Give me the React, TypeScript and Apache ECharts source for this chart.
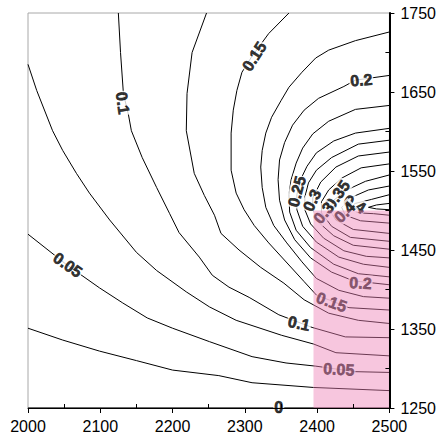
import React, { useEffect, useRef } from 'react';
import * as echarts from 'echarts';

const xMinorCats = ['2000', '2050', '2100', '2150', '2200', '2250', '2300', '2350', '2400', '2450', '2500'];
const yTickLabels = ['1250', '1300', '1350', '1400', '1450', '1500', '1550', '1600', '1650', '1700', '1750'];

const level000 = [[2000, 1250], [2500, 1250]];
const level025 = [[2000, 1351], [2048, 1336], [2099, 1322], [2150, 1310], [2200, 1298], [2264, 1291], [2310, 1282], [2395, 1276], [2500, 1272]];
const level050 = [[2000, 1470], [2054, 1431], [2099, 1402], [2131, 1383], [2165, 1364], [2200, 1351], [2251, 1334], [2310, 1315], [2357, 1307], [2398, 1303], [2453, 1296], [2500, 1295]];
const level075 = [[2000, 1685], [2012, 1652], [2034, 1601], [2048, 1576], [2067, 1547], [2085, 1522], [2113, 1488], [2150, 1447], [2178, 1424], [2219, 1397], [2251, 1378], [2288, 1361], [2351, 1342], [2395, 1331], [2426, 1320], [2500, 1316]];
const level100 = [[2125, 1750], [2128, 1700], [2132, 1648], [2139, 1621], [2143, 1601], [2158, 1567], [2178, 1529], [2196, 1496], [2209, 1472], [2237, 1441], [2255, 1418], [2278, 1403], [2306, 1390], [2347, 1368], [2393, 1352], [2439, 1340], [2500, 1339]];
const level125 = [[2247, 1750], [2227, 1700], [2220, 1648], [2219, 1601], [2230, 1547], [2244, 1519], [2258, 1494], [2267, 1471], [2292, 1450], [2322, 1428], [2354, 1408], [2382, 1387], [2416, 1370], [2457, 1361], [2500, 1357]];
const level150 = [[2361, 1750], [2333, 1724], [2309, 1694], [2296, 1675], [2289, 1652], [2284, 1627], [2281, 1598], [2281, 1551], [2288, 1522], [2299, 1501], [2313, 1481], [2333, 1459], [2361, 1431], [2382, 1410], [2399, 1393], [2444, 1377], [2500, 1374]];
const level175 = [[2500, 1726], [2453, 1715], [2416, 1703], [2398, 1693], [2379, 1675], [2361, 1656], [2350, 1639], [2337, 1618], [2329, 1598], [2324, 1576], [2322, 1555], [2324, 1529], [2329, 1504], [2340, 1481], [2358, 1459], [2379, 1435], [2399, 1414], [2430, 1399], [2464, 1391], [2500, 1389]];
const level200 = [[2500, 1671], [2453, 1665], [2437, 1657], [2402, 1642], [2382, 1627], [2366, 1608], [2355, 1586], [2348, 1564], [2346, 1539], [2348, 1513], [2355, 1488], [2369, 1463], [2391, 1440], [2420, 1422], [2450, 1411], [2500, 1406]];
const level225 = [[2500, 1633], [2453, 1628], [2416, 1613], [2394, 1597], [2380, 1579], [2371, 1560], [2364, 1539], [2361, 1520], [2362, 1498], [2371, 1475], [2391, 1453], [2423, 1432], [2457, 1420], [2500, 1416]];
const level250 = [[2500, 1604], [2453, 1598], [2423, 1588], [2399, 1573], [2386, 1556], [2377, 1539], [2372, 1520], [2372, 1501], [2380, 1480], [2399, 1460], [2430, 1441], [2464, 1432], [2500, 1428]];
const level275 = [[2500, 1589], [2457, 1584], [2420, 1567], [2399, 1551], [2388, 1535], [2383, 1517], [2383, 1501], [2391, 1483], [2409, 1465], [2437, 1449], [2468, 1442], [2500, 1440]];
const level300 = [[2500, 1574], [2457, 1569], [2426, 1555], [2405, 1536], [2394, 1516], [2394, 1501], [2402, 1485], [2423, 1468], [2450, 1456], [2500, 1451]];
const level325 = [[2500, 1559], [2461, 1554], [2434, 1541], [2416, 1526], [2406, 1511], [2406, 1497], [2420, 1480], [2446, 1466], [2500, 1461]];
const level350 = [[2500, 1545], [2467, 1537], [2441, 1526], [2423, 1513], [2417, 1501], [2426, 1488], [2450, 1476], [2500, 1471]];
const level375 = [[2500, 1531], [2471, 1526], [2446, 1516], [2434, 1504], [2439, 1494], [2460, 1487], [2500, 1484]];
const level400 = [[2500, 1520], [2475, 1514], [2453, 1509], [2444, 1503], [2457, 1497], [2478, 1496], [2500, 1494]];
const level425 = [[2500, 1509], [2482, 1507], [2471, 1504], [2482, 1502], [2500, 1501]];

const contours = [level000, level025, level050, level075, level100, level125, level150, level175, level200, level225, level250, level275, level300, level325, level350, level375, level400, level425];

const labelTexts = ['0', '0.05', '0.1', '0.15', '0.2', '0.25', '0.3', '0.35', '0.4', '0.3', '0.4', '0.2', '0.15', '0.1', '0.05'];
const labelPoints = [[2347, 1251], [2055, 1431], [2131, 1636], [2313, 1695], [2461, 1665], [2372, 1524], [2393, 1513], [2428, 1520], [2452, 1508], [2409, 1497], [2438, 1498], [2460, 1408], [2420, 1384], [2375, 1357], [2430, 1299]];
const labelAngles = [0, -35, -82, 57, 5, 75, 64, 55, -30, 50, 45, -3, -20, -12, -3];

const shadedRegion = [2395, 1500, 2500, 1250];

const TICK_FONT = '"Liberation Sans Narrow", "Liberation Sans", Arial, sans-serif';
const LABEL_FONT = '"Liberation Sans", Arial, sans-serif';

export default function App() {
  const ref = useRef<HTMLDivElement>(null);
  useEffect(() => {
    if (!ref.current) return;
    const chart = echarts.init(ref.current, null, { renderer: 'svg' });
    const lineSeries = contours.map((data) => ({
      type: 'line',
      data,
      symbol: 'none',
      showSymbol: false,
      lineStyle: { color: '#000', width: 1 },
      z: 2,
      silent: true,
    }));
    const option = {
      animation: false,
      grid: { left: 28, right: 48, top: 13, bottom: 30, show: true, borderColor: '#a8a8a8', borderWidth: 1 },
      xAxis: [
        {
          type: 'value', min: 2000, max: 2500, interval: 100, position: 'bottom',
          axisLine: { show: true, onZero: false, lineStyle: { color: '#000', width: 1 } },
          axisTick: { show: true, length: 5, lineStyle: { color: '#000' } },
          axisLabel: { color: '#000', fontSize: 16, fontFamily: TICK_FONT, margin: 10, formatter: (v: number) => String(v) },
          splitLine: { show: false },
          z: 20,
        },
        {
          type: 'category', data: xMinorCats, boundaryGap: false, position: 'bottom',
          axisLine: { show: false },
          axisTick: { show: true, inside: true, length: 4, interval: (i: number) => i % 2 === 1, lineStyle: { color: '#000' } },
          axisLabel: { show: false },
          splitLine: { show: false },
          z: 20,
        },
      ],
      yAxis: [
        { type: 'value', min: 1250, max: 1750, show: false, splitLine: { show: false } },
        {
          type: 'category', data: yTickLabels, boundaryGap: false, position: 'right',
          axisLine: { show: true, lineStyle: { color: '#000', width: 2 } },
          axisTick: { show: true, length: 5, interval: (i: number) => i % 2 === 0, lineStyle: { color: '#000' } },
          axisLabel: { interval: (i: number) => i % 2 === 0, color: '#000', fontSize: 16, fontFamily: TICK_FONT, margin: 11 },
          splitLine: { show: false },
          z: 20,
        },
        {
          type: 'category', data: yTickLabels, boundaryGap: false, position: 'right',
          axisLine: { show: false },
          axisTick: { show: true, inside: true, length: 4, interval: (i: number) => i % 2 === 1, lineStyle: { color: '#000' } },
          axisLabel: { show: false },
          splitLine: { show: false },
          z: 20,
        },
      ],
      series: [
        ...lineSeries,
        {
          type: 'scatter',
          data: labelPoints.map((p, i) => ({ value: p, label: { rotate: labelAngles[i], formatter: labelTexts[i] } })),
          symbolSize: 1,
          itemStyle: { color: 'rgba(0,0,0,0)' },
          label: {
            show: true, position: 'inside', color: '#000', fontSize: 16, fontWeight: 'bold', fontFamily: LABEL_FONT,
            textBorderColor: '#000', textBorderWidth: 0.6,
            backgroundColor: '#fff', padding: [0, 1],
          },
          z: 5,
          silent: true,
        },
        {
          type: 'custom',
          data: [shadedRegion],
          encode: { x: [0, 2], y: [1, 3] },
          renderItem: (params: any, api: any) => {
            const p1 = api.coord([api.value(0), api.value(1)]);
            const p2 = api.coord([api.value(2), api.value(3)]);
            return {
              type: 'rect',
              shape: { x: p1[0], y: p1[1], width: p2[0] - p1[0], height: p2[1] - p1[1] },
              style: { fill: 'rgba(238,129,182,0.45)' },
            };
          },
          z: 10,
          silent: true,
        },
      ],
    };
    chart.setOption(option as any);
    return () => chart.dispose();
  }, []);
  return <div ref={ref} style={{ position: 'absolute', left: 0, top: 0, width: 439, height: 438 }} />;
}
